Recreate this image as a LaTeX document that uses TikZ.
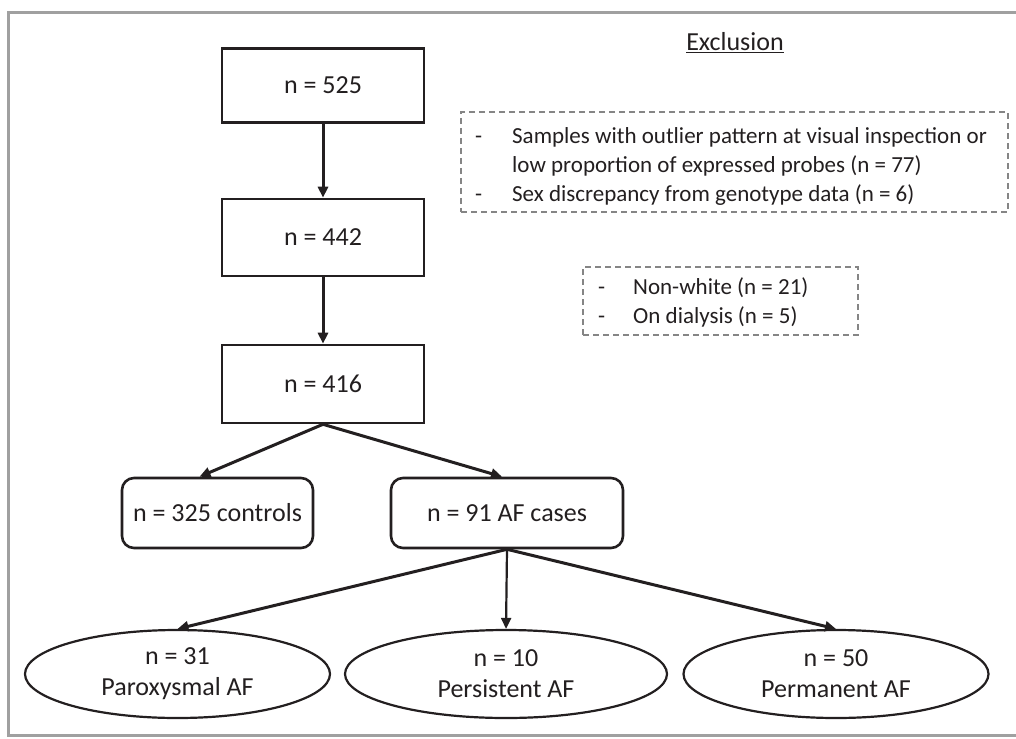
\documentclass[tikz,border=0pt]{standalone}
\usepackage{fontspec}
\setmainfont{Carlito}
\usetikzlibrary{arrows.meta,shapes.geometric,calc}
\definecolor{ink}{HTML}{231F20}
\definecolor{framegray}{HTML}{A0A0A0}
\definecolor{dashgray}{HTML}{858585}
\newcommand\mainfs{\fontsize{26}{31}\selectfont}
\newcommand\exfs{\fontsize{23}{29}\selectfont}
\begin{document}
\begin{tikzpicture}[x=1pt,y=-1pt,
  sqbox/.style={draw=ink, line width=2.6pt, rectangle, minimum width=202pt, minimum height=74pt, inner sep=0pt, font=\mainfs, text=ink},
  rbox/.style={sqbox, rounded corners=12pt, minimum height=70pt},
  oval/.style={ellipse, draw=ink, line width=2.2pt, minimum width=305pt, minimum height=88pt, inner sep=0pt, align=center, font=\mainfs, text=ink},
  arr/.style={draw=ink, line width=3pt, -{Triangle[length=11pt,width=10pt]}},
  exbox/.style={draw=dashgray, dash pattern=on 6pt off 4pt, line width=1.4pt, rectangle, inner sep=0pt},
  extext/.style={anchor=west, font=\exfs, align=left, inner sep=0pt, text=ink}]
\useasboundingbox (0,0) rectangle (1016,738);
\fill[white] (0,0) rectangle (1016,738);
\draw[framegray, line width=3pt] (1016,13) -- (8,13) -- (8,735) -- (1016,735);

\node[sqbox] (n525) at (323,85.5) {n = 525};
\node[sqbox, minimum height=77pt] (n442) at (323,237.5) {n = 442};
\node[sqbox, minimum height=78pt] (n416) at (323,384) {n = 416};
\node[rbox, minimum width=191pt] (ctrl) at (217.5,513) {n = 325 controls};
\node[rbox, minimum width=232pt] (af) at (507,513) {n = 91 AF cases};
\node[oval] (par) at (177.5,674) {n = 31\\Paroxysmal AF};
\node[oval, minimum width=322pt] (per) at (506,674) {n = 10\\Persistent AF};
\node[oval] (perm) at (836,674) {n = 50\\Permanent AF};

\node[font=\mainfs, text=ink, inner sep=0pt] (exh) at (735,43) {\underline{Exclusion}};
\node[exbox, minimum width=547pt, minimum height=100pt] (ex1) at (734.5,162) {};
\node[extext] (ex1t) at (475,166) {\makebox[37pt][l]{-}Samples with outlier pattern at visual inspection or\\\hspace*{37pt}low proportion of expressed probes (n = 77)\\\makebox[37pt][l]{-}Sex discrepancy from genotype data (n = 6)};
\node[exbox, minimum width=275pt, minimum height=68pt] (ex2) at (720.5,301) {};
\node[extext] (ex2t) at (598,302) {\makebox[35pt][l]{-}Non-white (n = 21)\\\makebox[35pt][l]{-}On dialysis (n = 5)};

\draw[arr] (n525) -- (n442);
\draw[arr] (n442) -- (n416);
\draw[arr] (n416.south) -- ([xshift=-18pt]ctrl.north);
\draw[arr] (n416.south) -- ([xshift=-5pt]af.north);
\draw[arr] (af.south) -- (par.north);
\draw[arr, line width=2.2pt] (af.south) -- (per.north);
\draw[arr] (af.south) -- (perm.north);
\end{tikzpicture}
\end{document}
